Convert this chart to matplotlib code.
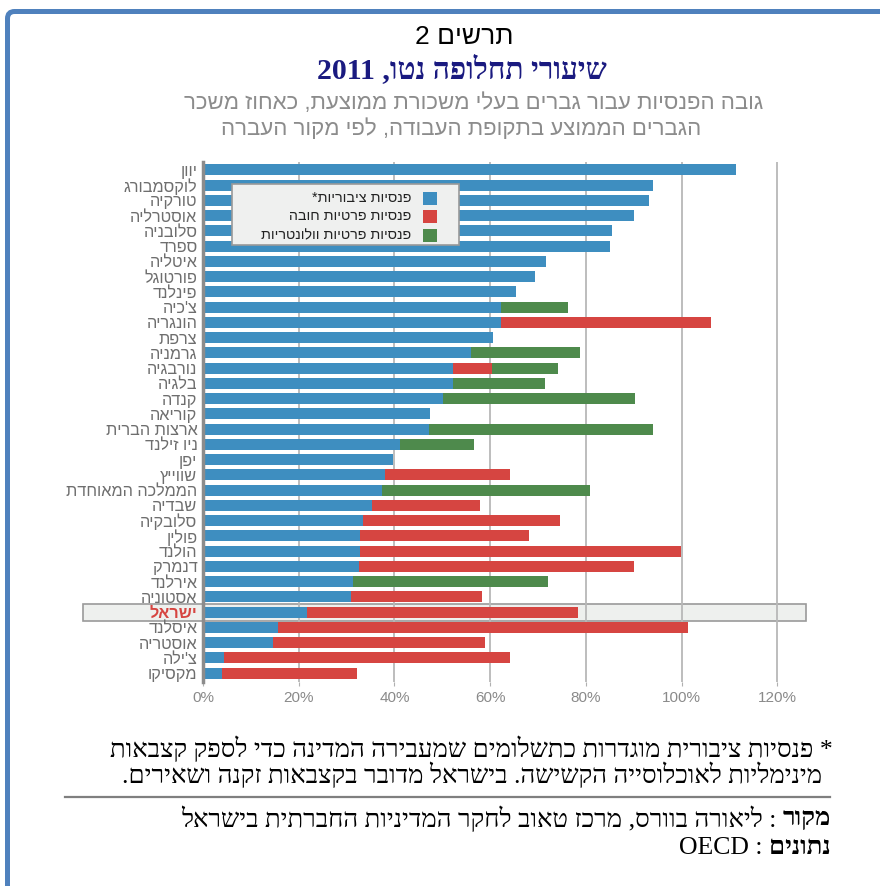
import re
import matplotlib
matplotlib.use('Agg')
import matplotlib.pyplot as plt
import matplotlib.patches as mpatches
import matplotlib.transforms as mtransforms
from matplotlib.ticker import FuncFormatter
import numpy as np

plt.rcParams['font.family'] = ['Liberation Sans', 'DejaVu Sans']
SERIF = ['Liberation Serif', 'DejaVu Serif']

# data, top to bottom
countries = ['יוון', 'לוקסמבורג', 'טורקיה', 'אוסטרליה', 'סלובניה', 'ספרד', 'איטליה',
             'פורטוגל', 'פינלנד', "צ'כיה", 'הונגריה', 'צרפת', 'גרמניה', 'נורבגיה',
             'בלגיה', 'קנדה', 'קוריאה', 'ארצות הברית', 'ניו זילנד', 'יפן', 'שווייץ',
             'הממלכה המאוחדת', 'שבדיה', 'סלובקיה', 'פולין', 'הולנד', 'דנמרק', 'אירלנד',
             'אסטוניה', 'ישראל', 'איסלנד', 'אוסטריה', "צ'ילה", 'מקסיקו']
public = [111.3, 94.0, 93.1, 90.0, 85.4, 85.0, 71.6, 69.3, 65.3, 62.2, 62.2, 60.5,
          55.9, 52.3, 52.2, 50.2, 47.5, 47.3, 41.1, 39.7, 38.1, 37.5, 35.3, 33.5,
          32.9, 32.9, 32.6, 31.4, 30.9, 21.8, 15.7, 14.6, 4.4, 4.0]
mandatory = [0, 0, 0, 0, 0, 0, 0, 0, 0, 0, 43.9, 0,
             0, 8.0, 0, 0, 0, 0, 0, 0, 26.0, 0, 22.5, 41.0,
             35.3, 66.9, 57.4, 0, 27.5, 56.5, 85.6, 44.4, 59.8, 28.2]
voluntary = [0, 0, 0, 0, 0, 0, 0, 0, 0, 14.0, 0, 0,
             22.8, 13.8, 19.2, 40.0, 0, 46.7, 15.6, 0, 0, 43.3, 0, 0,
             0, 0, 0, 40.6, 0, 0, 0, 0, 0, 0]
series_names = ['פנסיות ציבוריות*', 'פנסיות פרטיות חובה', 'פנסיות פרטיות וולונטריות']
highlight = 'ישראל'
xticks = [0, 20, 40, 60, 80, 100, 120]


def vis(s):
    # no bidi in matplotlib -> flip to visual order, keep digit/latin runs readable
    r = s[::-1]
    return re.sub(r'[0-9A-Za-z%]+', lambda m: m.group(0)[::-1], r)


blue = '#3e8ec0'
red = '#d64541'
green = '#4e8a4c'
colors = [blue, red, green]

W, H = 880, 886
fig = plt.figure(figsize=(W / 100, H / 100), dpi=100)

# blue frame (right and bottom run off the picture)
frame = mpatches.FancyBboxPatch((7.5 / W, -0.05), 1.05, 1.05 - 11.5 / H,
                                boxstyle='round,pad=0,rounding_size=0.008',
                                transform=fig.transFigure, fill=False,
                                edgecolor='#4f81bd', lw=3.6)
fig.patches.append(frame)

ax = fig.add_axes([203 / W, 1 - 681.5 / H, 603 / W, 519.5 / H])
y = np.arange(len(countries))
pub = np.array(public)
man = np.array(mandatory)
vol = np.array(voluntary)
ax.barh(y, pub, height=0.72, color=blue, lw=0, zorder=2)
ax.barh(y, man, left=pub, height=0.72, color=red, lw=0, zorder=2)
ax.barh(y, vol, left=pub + man, height=0.72, color=green, lw=0, zorder=2)

ax.set_xlim(0, 126)
ax.set_ylim(len(countries) - 0.45, -0.52)
ax.set_xticks(xticks)
ax.xaxis.set_major_formatter(FuncFormatter(lambda v, p: '%d%%' % v))
ax.set_yticks(y)
ax.set_yticklabels([vis(c) for c in countries])
ax.xaxis.grid(True, color='#b8b8b8', lw=1.3)
ax.set_axisbelow(True)
for s in ['top', 'right', 'bottom']:
    ax.spines[s].set_visible(False)
ax.spines['left'].set_color('#8c8c8c')
ax.spines['left'].set_linewidth(2.5)
ax.tick_params(axis='x', length=3, color='#b0b0b0', labelcolor='#8a8a8a', labelsize=11, pad=4)
ax.tick_params(axis='y', length=0, labelcolor='#6e6e6e', labelsize=11.7, pad=4)

hi = countries.index(highlight)
for t in ax.get_yticklabels():
    if t.get_text() == vis(highlight):
        t.set_color(red)
        t.set_fontweight('bold')

trans = mtransforms.blended_transform_factory(ax.transAxes, ax.transData)
box = mpatches.Rectangle((-0.199, hi - 0.56), 1.199, 1.12, transform=trans, clip_on=False,
                         facecolor='#eef0ee', edgecolor='#9a9a9a', lw=1.2, zorder=0.4)
ax.add_patch(box)

# legend box, swatches on the right like the original
ax.add_patch(mpatches.Rectangle((232 / W, 1 - 245 / H), 227 / W, 61 / H, transform=fig.transFigure,
                                facecolor='#eff0ef', edgecolor='#999999', lw=1.2, zorder=5,
                                clip_on=False))
for i, (name, c) in enumerate(zip(series_names, colors)):
    yy = 198 + 18.5 * i
    ax.add_patch(mpatches.Rectangle((423 / W, 1 - (yy + 6.5) / H), 14 / W, 13 / H,
                                    transform=fig.transFigure, facecolor=c, lw=0, zorder=6,
                                    clip_on=False))
    ax.text(411 / W, 1 - yy / H, vis(name), transform=fig.transFigure, ha='right', va='center',
            fontsize=10.3, color='#222222', zorder=6)

# titles
fig.text(464 / W, 1 - 37 / H, vis('תרשים 2'), ha='center', va='center', fontsize=19, color='black')
fig.text(462 / W, 1 - 69 / H, vis('שיעורי תחלופה נטו, 2011'), ha='center', va='center',
         fontsize=21.5, weight='bold', color='#1a1a80', family=SERIF)
fig.text(474 / W, 1 - 103 / H, vis('גובה הפנסיות עבור גברים בעלי משכורת ממוצעת, כאחוז משכר'),
         ha='center', va='center', fontsize=16, color='#8c8c8c')
fig.text(461 / W, 1 - 129 / H, vis('הגברים הממוצע בתקופת העבודה, לפי מקור העברה'),
         ha='center', va='center', fontsize=16, color='#8c8c8c')

# footnote
fig.text(833 / W, 1 - 749 / H, vis('* פנסיות ציבורית מוגדרות כתשלומים שמעבירה המדינה כדי לספק קצבאות'),
         ha='right', va='center', fontsize=18.5, family=SERIF)
fig.text(822 / W, 1 - 775 / H, vis('מינימליות לאוכלוסייה הקשישה. בישראל מדובר בקצבאות זקנה ושאירים.'),
         ha='right', va='center', fontsize=18.5, family=SERIF)
fig.add_artist(plt.Line2D([65 / W, 830 / W], [1 - 797 / H, 1 - 797 / H],
                          transform=fig.transFigure, color='#7f7f7f', lw=1.6))

r = fig.canvas.get_renderer()
for yy, bold, rest in [(819, 'מקור', ' : ליאורה בוורס, מרכז טאוב לחקר המדיניות החברתית בישראל'),
                       (848, 'נתונים', ' : OECD')]:
    b = fig.text(831 / W, 1 - yy / H, vis(bold), ha='right', va='center', fontsize=18.5,
                 weight='bold', family=SERIF)
    bw = b.get_window_extent(renderer=r).width
    fig.text((831 - bw) / W, 1 - yy / H, vis(rest), ha='right', va='center', fontsize=18.5,
             family=SERIF)

fig.savefig('out.png', dpi=100)
